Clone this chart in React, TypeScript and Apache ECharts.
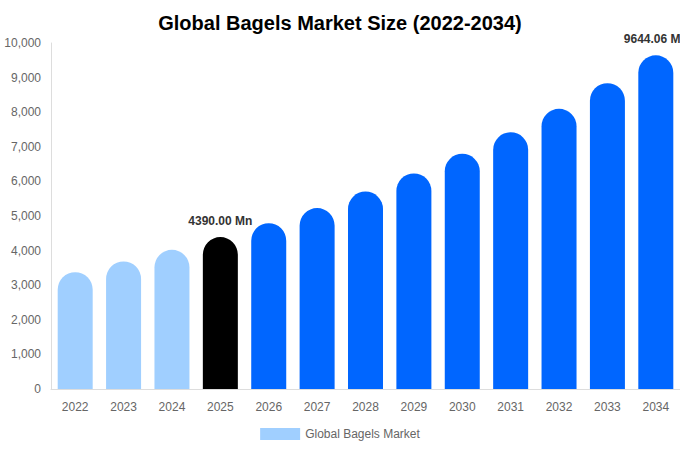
import { useEffect, useRef } from "react";
import * as echarts from "echarts";

const years = ["2022", "2023", "2024", "2025", "2026", "2027", "2028", "2029", "2030", "2031", "2032", "2033", "2034"];
const marketSize = [3375, 3685, 4022, 4390, 4791, 5229, 5707, 6229, 6798, 7420, 8098, 8838, 9644.06];
const labelledYears = ["2025", "2034"];

const LIGHT = "#a0cfff";
const BASE = "#000000";
const FORECAST = "#0066ff";

const colourFor = (year: string) => {
  const y = Number(year);
  if (y < 2025) return LIGHT;
  if (y === 2025) return BASE;
  return FORECAST;
};

const App = () => {
  const chartRef = useRef<HTMLDivElement>(null);

  useEffect(() => {
    if (!chartRef.current) return;
    const chart = echarts.init(chartRef.current, null, { renderer: "svg" });

    chart.setOption({
      animation: false,
      textStyle: { fontFamily: "Liberation Sans, Arial, sans-serif" },
      title: {
        text: "Global Bagels Market Size (2022-2034)",
        left: "center",
        top: 8,
        textStyle: { fontSize: 20, fontWeight: "bold", color: "#000" },
      },
      legend: {
        bottom: 5,
        left: "center",
        itemWidth: 40,
        itemHeight: 12,
        icon: "rect",
        textStyle: { color: "#666", fontSize: 12 },
        data: [{ name: "Global Bagels Market", itemStyle: { color: LIGHT } }],
      },
      grid: { left: 51, right: 0, top: 43, bottom: 61 },
      xAxis: {
        type: "category",
        data: years,
        axisLine: { lineStyle: { color: "#ddd" } },
        axisTick: { show: false },
        axisLabel: { color: "#666", fontSize: 12, margin: 12 },
      },
      yAxis: {
        type: "value",
        min: 0,
        max: 10000,
        interval: 1000,
        axisLine: { show: true, lineStyle: { color: "#ddd" } },
        axisTick: { show: false },
        splitLine: { show: false },
        axisLabel: {
          color: "#666",
          fontSize: 12,
          margin: 10,
          formatter: (v: number) => v.toLocaleString("en-US"),
        },
      },
      series: [
        {
          name: "Global Bagels Market",
          type: "bar",
          barWidth: 35,
          data: marketSize.map((v, i) => ({
            value: v,
            itemStyle: { color: colourFor(years[i]), borderRadius: [18, 18, 0, 0] },
            label: {
              show: labelledYears.includes(years[i]),
              position: "top",
              distance: 10,
              overflow: "none",
              formatter: (p: any) => `${p.value.toFixed(2)} Mn`,
              fontSize: 12,
              fontWeight: "bold",
              color: "#333",
            },
          })),
        },
      ],
    });

    return () => chart.dispose();
  }, []);

  return (
    <div
      ref={chartRef}
      style={{ position: "absolute", left: 0, top: 0, width: 680, height: 450 }}
    />
  );
};

export default App;
